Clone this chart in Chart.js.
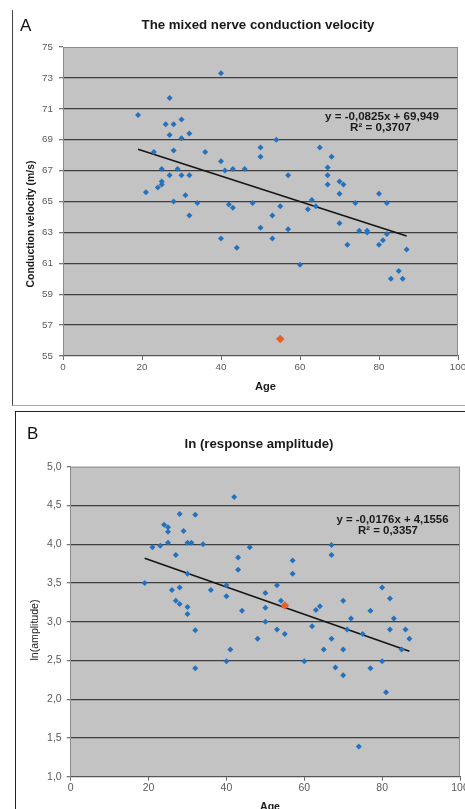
<!DOCTYPE html>
<html><head><meta charset="utf-8">
<script src="https://cdn.jsdelivr.net/npm/chart.js@4.4.1/dist/chart.umd.min.js"></script>
<style>
html,body{margin:0;padding:0;background:#fff}
body{width:465px;height:809px;position:relative;overflow:hidden;font-family:"Liberation Sans",Arial,sans-serif}
.wrap{position:absolute;left:0;width:465px}
.lbl{position:absolute;font-size:17px;color:#111;line-height:1}
</style></head>
<body>
<div style="position:absolute;left:12px;top:10px;width:453px;height:395px;border-left:1px solid #444;border-bottom:1px solid #aaa"></div>
<div style="position:absolute;left:15px;top:411px;width:450px;height:398px;border-left:1.5px solid #222;border-top:1.5px solid #222"></div>
<div class="wrap" style="top:0;height:406px"><canvas id="cA"></canvas></div>
<div class="wrap" style="top:406px;height:403px"><canvas id="cB"></canvas></div>
<div class="lbl" style="left:20px;top:17px">A</div>
<div class="lbl" style="left:27px;top:425px">B</div>
<script>
// ---------- Panel A data ----------
const ageA = [19,21,23,24,25,25,25,26,27,27, 27,28,28,28,29,30,30,30,31,32, 32,32,34,36,40,40,40,41,42,43, 43,44,46,48,50,50,50,53,53,54, 55,57,57,60,62,63,64,65,67,67, 67,68,70,71,70,70,72,74,75,77, 77,80,82,82,81,80,87,85,83,86];
const velA = [70.6,65.6,68.2,65.9,66.1,66.3,67.1,70.0,71.7,69.3, 66.7,70.0,68.3,65.0,67.1,70.3,69.1,66.7,65.4,69.4, 66.7,64.1,64.9,68.2,73.3,67.6,62.6,67.0,64.8,67.1, 64.6,62.0,67.1,64.9,68.5,67.9,63.3,64.1,62.6,69.0, 64.7,66.7,63.2,60.9,64.5,65.1,64.7,68.5,67.2,66.7, 66.1,67.9,66.3,66.1,65.5,63.6,62.2,64.9,63.1,63.1, 63.0,65.5,64.9,62.9,62.5,62.2,61.9,60.5,60.0,60.0];
const outlierAgeA = [55];
const outlierVelA = [56.1];
const trendAgeA = [19, 87];
const trendVelA = [68.38, 62.77];
const yTicksA = [55,57,59,61,63,65,67,69,71,73,75];
const yTickLabelsA = ['55','57','59','61','63','65','67','69','71','73','75'];
const titleA = 'The mixed nerve conduction velocity';
const yTitleA = 'Conduction velocity (m/s)';
const eqA = ['y = -0,0825x + 69,949', 'R² = 0,3707'];

// ---------- Panel B data ----------
const ageB = [19,21,23,24,25,25,25,26,27,27, 28,28,28,29,30,31,30,30,30,32, 32,32,34,36,40,40,40,41,42,43, 43,44,46,48,50,50,50,53,53,54, 55,57,57,60,62,63,64,65,67,67, 67,68,70,70,70,71,72,74,75,77, 77,80,80,81,82,82,83,85,86,87];
const lnB = [3.50,3.96,3.98,4.25,4.22,4.16,4.02,3.41,3.86,3.27, 4.39,3.44,3.23,4.17,4.02,4.02,3.62,3.19,3.10,4.38, 2.89,2.40,4.00,3.41,3.47,3.33,2.49,2.64,4.61,3.83, 3.67,3.14,3.96,2.78,3.37,3.18,3.00,3.47,2.90,3.27, 2.84,3.79,3.62,2.49,2.94,3.15,3.20,2.64,3.99,3.86, 2.78,2.41,3.27,2.64,2.31,2.90,3.04,1.39,2.84,3.14, 2.40,3.44,2.49,2.09,3.30,2.90,3.04,2.64,2.90,2.78];
const outlierAgeB = [55];
const outlierLnB = [3.21];
const trendAgeB = [19, 87];
const trendLnB = [3.82, 2.62];
const yTicksB = [1.0,1.5,2.0,2.5,3.0,3.5,4.0,4.5,5.0];
const yTickLabelsB = ['1,0','1,5','2,0','2,5','3,0','3,5','4,0','4,5','5,0'];
const titleB = 'ln (response amplitude)';
const yTitleB = 'ln(amplitude)';
const eqB = ['y = -0,0176x + 4,1556', 'R² = 0,3357'];

// ---------- shared ----------
const xTicks = [0,20,40,60,80,100];
const xTickLabels = ['0','20','40','60','80','100'];
const xTitle = 'Age';

const FONT = '"Liberation Sans", Arial, sans-serif';
const BLUE = '#2472bd';
const ORANGE = '#e2622a';

function pts(xs, ys){ return xs.map((x,i)=>({x:x, y:ys[i]})); }

let lastSize = 10;
function fitText(ctx, t){
  ctx.save();
  let size;
  if (t.same) { size = lastSize; }
  else {
    ctx.font = t.wt + ' 10px ' + FONT;
    const w = ctx.measureText(t.s).width;
    size = 10 * t.w / w;
    lastSize = size;
  }
  ctx.font = t.wt + ' ' + size.toFixed(2) + 'px ' + FONT;
  ctx.translate(t.x, t.y);
  if (t.rot) ctx.rotate(-Math.PI/2);
  ctx.textAlign = 'center';
  ctx.textBaseline = 'middle';
  ctx.fillStyle = '#1a1a1a';
  ctx.fillText(t.s, 0, 0);
  ctx.restore();
}

function makePanel(id, c){
  const bgPlugin = {
    id: 'bg' + id,
    beforeDraw(chart){
      const {ctx, chartArea:a} = chart;
      ctx.save();
      ctx.fillStyle = '#c3c3c3';
      ctx.fillRect(a.left, a.top, a.right - a.left, a.bottom - a.top);
      ctx.restore();
    },
    afterDraw(chart){
      const {ctx, chartArea:a} = chart;
      ctx.save();
      ctx.strokeStyle = '#8c8c8c';
      ctx.lineWidth = 1;
      ctx.beginPath();
      ctx.moveTo(a.left, a.top + 0.5); ctx.lineTo(a.right, a.top + 0.5);
      ctx.moveTo(a.right - 0.5, a.top); ctx.lineTo(a.right - 0.5, a.bottom);
      ctx.stroke();
      ctx.restore();
      c.texts.forEach(t => fitText(ctx, t));
    }
  };
  return new Chart(document.getElementById(id), {
    type: 'scatter',
    data: { datasets: [
      { data: c.outlier, pointStyle:'rectRot', pointRadius:4.3, pointBackgroundColor:ORANGE, pointBorderColor:ORANGE, pointBorderWidth:0 },
      { data: c.points, pointStyle:'rectRot', pointRadius:3, pointBackgroundColor:BLUE, pointBorderColor:BLUE, pointBorderWidth:0 },
      { data: c.trend, showLine:true, pointRadius:0, borderColor:'#151515', borderWidth:1.6, fill:false }
    ]},
    options: {
      responsive:true, maintainAspectRatio:false, animation:false, devicePixelRatio:1,
      layout:{ padding:{ left:0, right:c.padR, top:c.padT, bottom:0 } },
      plugins:{ legend:{display:false}, tooltip:{enabled:false}, title:{display:false} },
      scales:{
        x:{
          type:'linear', min:0, max:100,
          afterBuildTicks: s => { s.ticks = xTicks.map(v => ({value:v})); },
          afterFit: s => { s.height = c.xH; s.paddingLeft = 0; s.paddingRight = 0; },
          grid:{ drawOnChartArea:false, drawTicks:true, tickLength:4, color:'#6a6a6a', lineWidth:1 },
          border:{ display:true, color:'#555', width:1.2 },
          ticks:{ color:'#5a5a5a', font:{family:FONT, size:c.tickSize}, padding:c.xPad, maxRotation:0, autoSkip:false,
                  callback:(v,i) => xTickLabels[xTicks.indexOf(v)] }
        },
        y:{
          type:'linear', min:c.ymin, max:c.ymax,
          afterBuildTicks: s => { s.ticks = c.yTicks.map(v => ({value:v})); },
          afterFit: s => { s.width = c.yW; s.paddingTop = 0; s.paddingBottom = 0; },
          grid:{ drawOnChartArea:true, drawTicks:true, tickLength:4,
                 color: ctx => (ctx.tick && (ctx.tick.value === c.ymax || ctx.tick.value === c.ymin)) ? 'rgba(0,0,0,0)' : '#3e3e3e',
                 tickColor:'#7a7a7a', lineWidth:1.3 },
          border:{ display:true, color:'#8a8a8a', width:1 },
          ticks:{ color:'#5a5a5a', font:{family:FONT, size:c.tickSize}, padding:c.yPad, autoSkip:false,
                  callback:(v) => c.yTickLabels[c.yTicks.findIndex(t => Math.abs(t - v) < 1e-9)] }
        }
      }
    },
    plugins:[bgPlugin]
  });
}

makePanel('cA', {
  points: pts(ageA, velA), outlier: pts(outlierAgeA, outlierVelA), trend: pts(trendAgeA, trendVelA),
  ymin:55, ymax:75, yTicks:yTicksA, yTickLabels:yTickLabelsA,
  padR:7, padT:47, xH:50, yW:63, tickSize:9.8, xPad:1.5, yPad:6,
  texts:[
    {s:titleA, x:258, y:25, w:233, wt:'bold'},
    {s:yTitleA, x:31, y:224, w:127, wt:'bold', rot:true},
    {s:xTitle, x:265.5, y:386.5, w:21, wt:'bold'},
    {s:eqA[0], x:382, y:117.3, w:114, wt:'bold'},
    {s:eqA[1], x:380.5, y:128, same:true, wt:'bold'}
  ]
});

makePanel('cB', {
  points: pts(ageB, lnB), outlier: pts(outlierAgeB, outlierLnB), trend: pts(trendAgeB, trendLnB),
  ymin:1, ymax:5, yTicks:yTicksB, yTickLabels:yTickLabelsB,
  padR:5, padT:60.7, xH:32.3, yW:70.7, tickSize:10.5, xPad:1.5, yPad:5,
  texts:[
    {s:titleB, x:259, y:38, w:149, wt:'bold'},
    {s:yTitleB, x:35, y:224, w:61, wt:'normal', rot:true},
    {s:xTitle, x:270, y:400.7, w:20, wt:'bold'},
    {s:eqB[0], x:392.5, y:114, w:112, wt:'bold'},
    {s:eqB[1], x:388, y:125, same:true, wt:'bold'}
  ]
});
</script>
</body></html>
